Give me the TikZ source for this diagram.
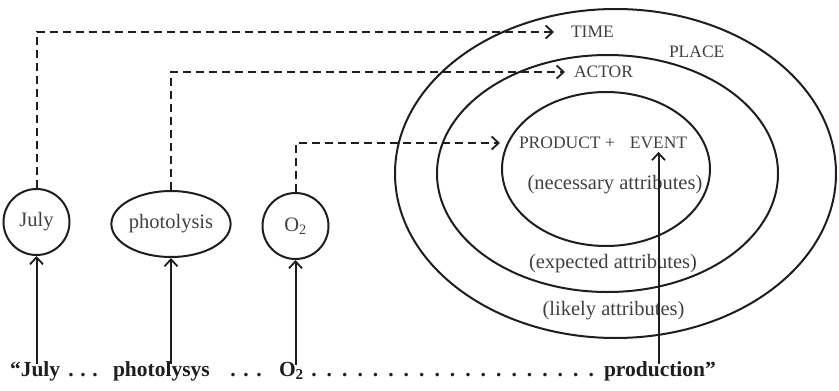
\documentclass[tikz,border=0pt]{standalone}
\usepackage{fontspec}
\setmainfont{Liberation Serif}
\usetikzlibrary{arrows.meta,shapes.geometric}
\definecolor{ink}{HTML}{1E1E1E}
\definecolor{txt}{HTML}{404040}
\begin{document}
\begin{tikzpicture}[x=1pt,y=-1pt,
  line width=2pt, draw=ink,
  tip/.tip={Straight Barb[length=7pt,width=13pt,line width=1.8pt]},
  solidarrow/.style={draw=ink,line width=2pt,-tip},
  dasharrow/.style={draw=ink,line width=2pt,-tip,dash pattern=on 8pt off 5pt},
  ring/.style={draw=ink,line width=2pt,shape=ellipse,inner sep=0pt},
  concept/.style={draw=ink,line width=2pt,shape=ellipse,inner sep=0pt,text=txt,
    font=\fontsize{20.5}{24}\selectfont},
  caplabel/.style={inner sep=0pt,text=txt,font=\fontsize{17.5}{20}\selectfont},
  attr/.style={inner sep=0pt,text=txt,font=\fontsize{20.5}{24}\selectfont},
  word/.style={inner sep=0pt,anchor=base west,text=ink,
    font=\fontsize{21.5}{24}\selectfont\bfseries},
  leader/.style={inner sep=0pt,anchor=base,text=ink,
    font=\fontsize{21.5}{24}\selectfont\bfseries}]
\useasboundingbox (0,0) rectangle (839,391);

% nested context rings
\node[ring,minimum width=441pt,minimum height=329pt] (outer)  at (615.5,173.5) {};
\node[ring,minimum width=341pt,minimum height=237pt] (middle) at (607.5,173.5) {};
\node[ring,minimum width=208pt,minimum height=154pt] (inner)  at (606,169) {};

% ring labels
\node[caplabel,anchor=west] (time)  at (570,32) {TIME};
\node[caplabel,anchor=west] (place) at (668,52) {PLACE};
\node[caplabel,anchor=west] (actor) at (573,72) {ACTOR};
\node[caplabel,anchor=west] (product) at (518,143) {PRODUCT +};
\node[caplabel] (event) at (658.5,143) {EVENT};
\node[attr] (necessary) at (615,185) {(necessary attributes)};
\node[attr] (expected)  at (613,264) {(expected attributes)};
\node[attr] (likely)    at (613.5,311) {(likely attributes)};

% recognised concepts
\node[concept,minimum width=66pt,minimum height=66pt]  (july)  at (36.5,222) {July};
\node[concept,minimum width=116pt,minimum height=66pt] (photo) at (171,224) {photolysis};
\node[concept,minimum width=66pt,minimum height=66pt]  (oxy)   at (295.5,226) {O\textsubscript{2}};

% source sentence
\node[word] (bjuly)  at (9,376)   {“July};
\node[word] (bphoto) at (112,376) {photolysys};
\node[word] (boxy)   at (278,376) {O\textsubscript{2}};
\node[word] (bprod)  at (603,376) {production”};
\foreach \x in {71,83,95,233,246,259} \node[leader] at (\x,376) {.};
\foreach \k in {0,...,18} \node[leader] at (314+15.4*\k,376) {.};

% words to concepts
\draw[solidarrow] ([yshift=-4pt]july.south |- bjuly.north) -- (july.south);
\draw[solidarrow] ([yshift=-4pt]photo.south |- bphoto.north) -- (photo.south);
\draw[solidarrow] ([yshift=-4pt]oxy.south |- boxy.north) -- (oxy.south);
\draw[solidarrow] ([yshift=-4pt]event.south |- bprod.north) -- ([yshift=-2pt]event.south);

% concepts to roles
\draw[dasharrow] (july.north) |- ([xshift=-16pt]time.west);
\draw[dasharrow] (photo.north) |- ([xshift=-8pt]actor.west);
\draw[dasharrow] (oxy.north) |- ([xshift=-18pt]product.west);
\end{tikzpicture}
\end{document}
